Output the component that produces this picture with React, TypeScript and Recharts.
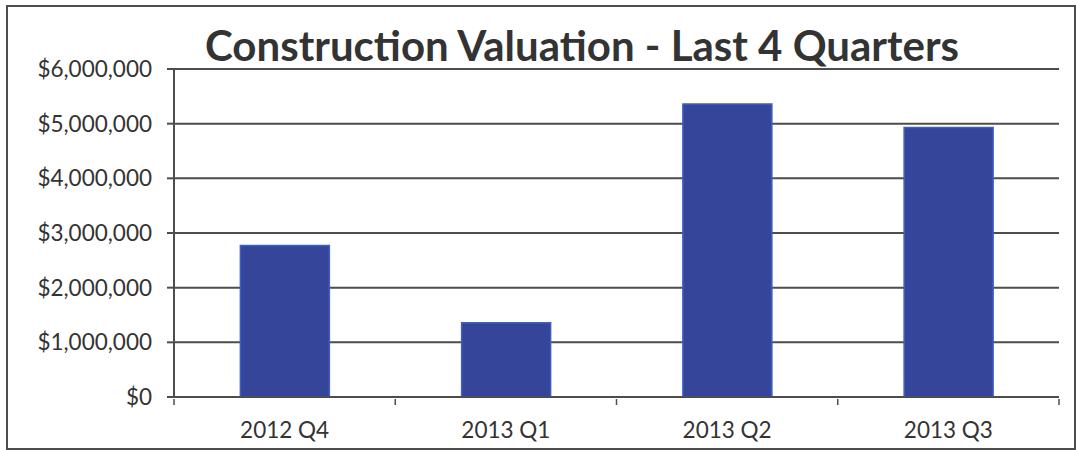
import React from "react";
import { BarChart, Bar, XAxis, YAxis, CartesianGrid } from "recharts";

const quarters = ["2012 Q4", "2013 Q1", "2013 Q2", "2013 Q3"];
const valuations = [2770000, 1360000, 5360000, 4930000];
const yTicks = [0, 1000000, 2000000, 3000000, 4000000, 5000000, 6000000];
const title = "Construction Valuation - Last 4 Quarters";

const data = quarters.map((q, i) => ({ quarter: q, value: valuations[i] }));

const fmt = (v: number) => "$" + v.toLocaleString("en-US");

const FONT = "Lato, 'Open Sans', sans-serif";
const TEXT = "#333333";
const LINE = "#4d4d4d";

const XTick = (props: any) => {
  const { x, y, payload, index, visibleTicksCount } = props;
  const off = payload.offset || 0;
  const axisY = y - 8;
  const isLast = index === (visibleTicksCount ?? quarters.length) - 1;
  return (
    <g>
      <line x1={x - off} x2={x - off} y1={axisY} y2={axisY + 6} stroke={LINE} strokeWidth={1.5} />
      {isLast && (
        <line x1={x + off} x2={x + off} y1={axisY} y2={axisY + 6} stroke={LINE} strokeWidth={1.5} />
      )}
      <text
        x={x}
        y={y + 22}
        textAnchor="middle"
        dominantBaseline="central"
        fill={TEXT}
        fontFamily={FONT}
        fontSize={22.5}
      >
        {payload.value}
      </text>
    </g>
  );
};

export default function App() {
  return (
    <div style={{ position: "absolute", left: 0, top: 0, width: 1077, height: 450, background: "#fff" }}>
      <div
        style={{
          position: "absolute",
          left: 6,
          top: 5,
          width: 1066,
          height: 441,
          border: `2px solid ${LINE}`,
        }}
      />
      <div
        style={{
          position: "absolute",
          left: 0,
          top: 20,
          width: 1164,
          textAlign: "center",
          fontFamily: FONT,
          fontWeight: 700,
          fontSize: 42,
          color: TEXT,
          lineHeight: "50px",
        }}
      >
        {title}
      </div>
      <div style={{ position: "absolute", left: 0, top: 0 }}>
        <BarChart
          width={1077}
          height={450}
          data={data}
          margin={{ top: 69, right: 18, left: 0, bottom: 0 }}
          barCategoryGap="30%"
        >
          <CartesianGrid vertical={false} stroke={LINE} strokeWidth={2} />
          <XAxis
            dataKey="quarter"
            height={53}
            tickLine={false}
            tickSize={8}
            axisLine={{ stroke: LINE, strokeWidth: 2 }}
            tick={<XTick />}
            interval={0}
          />
          <YAxis
            width={174}
            domain={[0, 6000000]}
            ticks={yTicks}
            tickFormatter={fmt}
            tickSize={7}
            tickMargin={15}
            tickLine={{ stroke: LINE, strokeWidth: 2 }}
            axisLine={{ stroke: LINE, strokeWidth: 2 }}
            tick={{ fill: TEXT, fontFamily: FONT, fontSize: 22.5 }}
          />
          <Bar
            dataKey="value"
            fill="#34459a"
            stroke="#3f5fc4"
            strokeWidth={1.5}
            isAnimationActive={false}
          />
        </BarChart>
      </div>
    </div>
  );
}
